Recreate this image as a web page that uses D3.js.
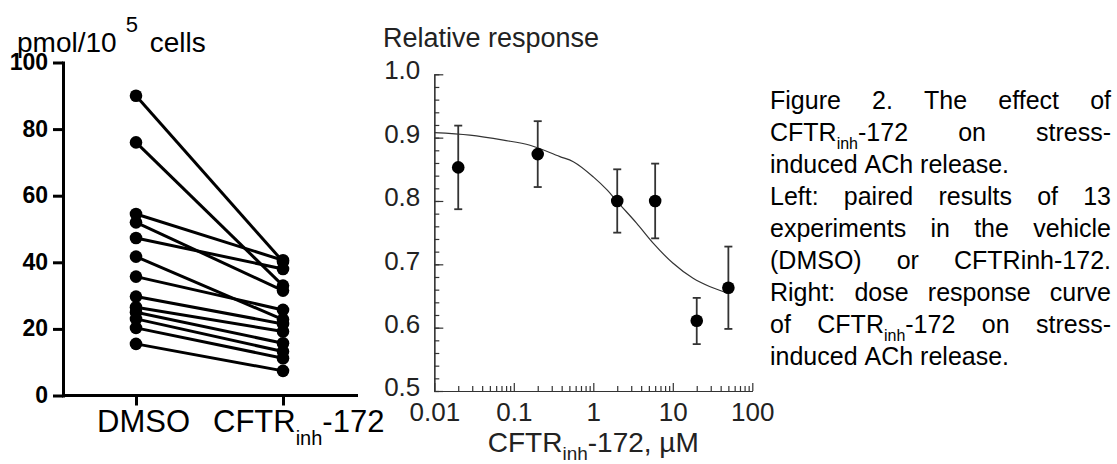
<!DOCTYPE html>
<html><head><meta charset="utf-8">
<script src="https://cdn.jsdelivr.net/npm/d3@7"></script>
<style>body{margin:0;background:#fff}svg{display:block}</style>
</head><body><svg id="c" width="1117" height="464"></svg>
<script>
// ---------- DATA ----------
const categories = ["DMSO", "CFTR_{inh}-172"];
const dmsoValues = [90, 76, 54.5, 52, 47.3, 41.7, 35.7, 29.7, 26.5, 25, 23, 20.3, 15.5];
const cftrValues = [40.2, 33, 40.6, 31.5, 38, 22.8, 25.7, 21.5, 19.2, 15.7, 13.2, 11.2, 7.4];
const leftTicks = [0, 20, 40, 60, 80, 100];

const doseX = [0.02, 0.2, 2, 6, 20, 50];
const doseY = [0.853, 0.874, 0.800, 0.800, 0.611, 0.663];
const errHi = [0.919, 0.926, 0.850, 0.859, 0.647, 0.728];
const errLo = [0.787, 0.822, 0.750, 0.741, 0.574, 0.598];
const curveX = [0.01, 0.028, 0.074, 0.16, 0.38, 0.56, 1.0, 1.5, 2.0, 3.5, 5.7, 10, 18, 29, 48];
const curveY = [0.908, 0.904, 0.896, 0.888, 0.870, 0.862, 0.838, 0.817, 0.799, 0.765, 0.733, 0.702, 0.678, 0.665, 0.655];
const rightYTicks = [0.5, 0.6, 0.7, 0.8, 0.9, 1.0];
const rightYLabels = ["0.5", "0.6", "0.7", "0.8", "0.9", "1.0"];
const rightXTicks = [0.01, 0.1, 1, 10, 100];
const rightXLabels = ["0.01", "0.1", "1", "10", "100"];

const captionLines = [
  {t: "Figure 2. The effect of", j: true},
  {t: "CFTR_{inh}-172 on stress-", j: true},
  {t: "induced ACh release.", j: false},
  {t: "Left: paired results of 13", j: true},
  {t: "experiments in the vehicle", j: true},
  {t: "(DMSO) or CFTRinh-172.", j: true},
  {t: "Right: dose response curve", j: true},
  {t: "of CFTR_{inh}-172 on stress-", j: true},
  {t: "induced ACh release.", j: false}
];

// ---------- HELPERS ----------
const FONT = "'Liberation Sans', Arial, Helvetica, sans-serif";
const svg = d3.select("#c");

function richText(sel, str, subSize, subDy) {
  const parts = str.split(/(_\{[^}]*\})/).filter(s => s.length);
  let shifted = false;
  parts.forEach(p => {
    if (p.startsWith("_{")) {
      sel.append("tspan").attr("font-size", subSize).attr("dy", subDy).text(p.slice(2, -1));
      shifted = true;
    } else {
      const t = sel.append("tspan").text(p);
      if (shifted) { t.attr("dy", -subDy); shifted = false; }
    }
  });
}

// ---------- LEFT CHART ----------
const yL = d3.scaleLinear().domain([0, 100]).range([395.5, 62.5]);
const xL = d3.scalePoint().domain(categories).range([136, 283]);
const L = svg.append("g");

const yAxL = L.append("g").attr("transform", "translate(63,0)")
  .call(d3.axisLeft(yL).tickValues(leftTicks).tickSize(10).tickSizeOuter(0).tickPadding(5));
yAxL.selectAll("path, line").attr("stroke", "#000").attr("stroke-width", 3);
yAxL.selectAll("text").attr("font-family", FONT).attr("font-size", 23).attr("font-weight", "bold")
  .attr("fill", "#000").attr("dy", "0.3em");
yAxL.select(".domain").attr("stroke-linecap", "square");

const xAxL = L.append("g").attr("transform", "translate(0,395.5)")
  .call(d3.axisBottom(xL).tickSize(10).tickSizeOuter(0).tickFormat(""));
xAxL.select(".domain").remove();
xAxL.selectAll("line").attr("stroke", "#000").attr("stroke-width", 3);
L.append("line").attr("x1", 63).attr("x2", 358).attr("y1", yL(0)).attr("y2", yL(0))
  .attr("stroke", "#000").attr("stroke-width", 3);

categories.forEach((c, i) => {
  const t = L.append("text").attr("y", 432).attr("text-anchor", "start")
    .attr("font-family", FONT).attr("font-size", 31).attr("fill", "#000")
    .attr("x", i === 0 ? xL(c) - 39 : xL(c) - 70);
  richText(t, c, 20, 13);
});

// y title
const tL = L.append("text").attr("x", 17).attr("y", 52).attr("font-family", FONT).attr("font-size", 28).attr("fill", "#000");
tL.append("tspan").text("pmol/10");
tL.append("tspan").attr("font-size", 22).attr("dx", 9).attr("dy", -20).text("5");
tL.append("tspan").attr("dx", 4).attr("dy", 20).text(" cells");

const pairs = dmsoValues.map((v, i) => [v, cftrValues[i]]);
L.append("g").selectAll("line").data(pairs).join("line")
  .attr("x1", xL(categories[0])).attr("x2", xL(categories[1]))
  .attr("y1", d => yL(d[0])).attr("y2", d => yL(d[1]))
  .attr("stroke", "#000").attr("stroke-width", 3);
L.append("g").selectAll("circle").data(dmsoValues).join("circle")
  .attr("cx", xL(categories[0])).attr("cy", d => yL(d)).attr("r", 6.3).attr("fill", "#000");
L.append("g").selectAll("circle").data(cftrValues).join("circle")
  .attr("cx", xL(categories[1])).attr("cy", d => yL(d)).attr("r", 6.3).attr("fill", "#000");

// ---------- RIGHT CHART ----------
const GR = "#333";
const xR = d3.scaleLog().domain([0.01, 100]).range([434.3, 752.3]);
const yR = d3.scaleLinear().domain([0.5, 1.0]).range([391, 74.3]);
const R = svg.append("g");

// minor y ticks
const minorY = d3.range(0.5, 1.0001, 0.02).map(v => +v.toFixed(2));
const yMin = R.append("g").attr("transform", "translate(434.3,0)")
  .call(d3.axisLeft(yR).tickValues(minorY).tickSize(-5).tickSizeOuter(0).tickFormat(""));
yMin.selectAll("path,line").attr("stroke", GR).attr("stroke-width", 1.2);
const yMaj = R.append("g").attr("transform", "translate(434.3,0)")
  .call(d3.axisLeft(yR).tickValues(rightYTicks).tickSize(-9).tickSizeOuter(0).tickPadding(14)
    .tickFormat((d, i) => rightYLabels[i]));
yMaj.selectAll("path,line").attr("stroke", GR).attr("stroke-width", 1.2);
yMaj.selectAll("text").attr("font-family", FONT).attr("font-size", 26).attr("fill", "#222").attr("dy", "0.18em");

// minor x ticks
const minorX = [];
[0.01, 0.1, 1, 10].forEach(dec => { for (let k = 2; k <= 9; k++) minorX.push(+(dec * k).toPrecision(3)); });
const xMin = R.append("g").attr("transform", "translate(0,391)")
  .call(d3.axisBottom(xR).tickValues(minorX).tickSize(-5).tickSizeOuter(0).tickFormat(""));
xMin.selectAll("path,line").attr("stroke", GR).attr("stroke-width", 1.2);
const xMaj = R.append("g").attr("transform", "translate(0,391)")
  .call(d3.axisBottom(xR).tickValues(rightXTicks).tickSize(-8).tickSizeOuter(0).tickPadding(12)
    .tickFormat((d, i) => rightXLabels[i]));
xMaj.selectAll("path,line").attr("stroke", GR).attr("stroke-width", 1.2);
xMaj.selectAll("text").attr("font-family", FONT).attr("font-size", 26).attr("fill", "#222");

// titles
R.append("text").attr("x", 383).attr("y", 47).attr("font-family", FONT).attr("font-size", 27).attr("fill", "#222").text("Relative response");
const xt = R.append("text").attr("x", (xR(0.01) + xR(100)) / 2).attr("y", 452).attr("text-anchor", "middle")
  .attr("font-family", FONT).attr("font-size", 28).attr("fill", "#222");
richText(xt, "CFTR_{inh}-172, µM", 19, 8);

// fitted curve
const curvePts = curveX.map((x, i) => [x, curveY[i]]);
R.append("path").datum(curvePts)
  .attr("d", d3.line().x(d => xR(d[0])).y(d => yR(d[1])).curve(d3.curveMonotoneX))
  .attr("fill", "none").attr("stroke", GR).attr("stroke-width", 1.2);

// error bars
const pts = doseX.map((x, i) => ({x, y: doseY[i], hi: errHi[i], lo: errLo[i]}));
const eb = R.append("g").attr("stroke", GR).attr("stroke-width", 1.8);
eb.selectAll("line.v").data(pts).join("line").attr("class", "v")
  .attr("x1", d => xR(d.x)).attr("x2", d => xR(d.x)).attr("y1", d => yR(d.hi)).attr("y2", d => yR(d.lo));
eb.selectAll("line.h").data(pts).join("line").attr("class", "h")
  .attr("x1", d => xR(d.x) - 4).attr("x2", d => xR(d.x) + 4).attr("y1", d => yR(d.hi)).attr("y2", d => yR(d.hi));
eb.selectAll("line.l").data(pts).join("line").attr("class", "l")
  .attr("x1", d => xR(d.x) - 4).attr("x2", d => xR(d.x) + 4).attr("y1", d => yR(d.lo)).attr("y2", d => yR(d.lo));
R.append("g").selectAll("circle").data(pts).join("circle")
  .attr("cx", d => xR(d.x)).attr("cy", d => yR(d.y)).attr("r", 6.3).attr("fill", "#000");

// ---------- CAPTION ----------
const capX0 = 770, capX1 = 1111, capY0 = 109, capLH = 32, capFS = 25;
const C = svg.append("g").attr("font-family", FONT).attr("font-size", capFS).attr("fill", "#000");
captionLines.forEach((ln, li) => {
  const y = capY0 + li * capLH;
  const words = ln.t.split(" ");
  const nodes = words.map(w => {
    const t = C.append("text").attr("y", y);
    richText(t, w, 16, 8);
    return t;
  });
  const widths = nodes.map(n => n.node().getComputedTextLength());
  const total = d3.sum(widths);
  const spaceW = capFS * 0.278;
  const gap = ln.j && words.length > 1 ? (capX1 - capX0 - total) / (words.length - 1) : spaceW;
  let x = capX0;
  nodes.forEach((n, i) => { n.attr("x", x); x += widths[i] + gap; });
});
</script></body></html>
